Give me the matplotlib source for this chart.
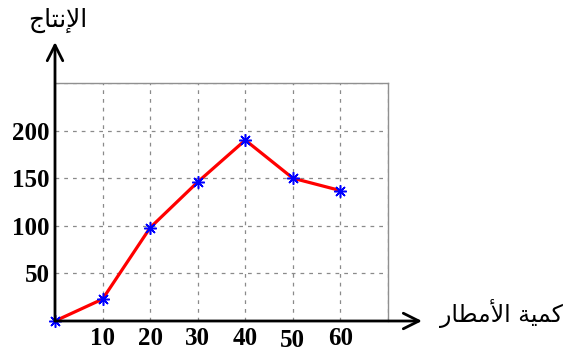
import matplotlib
matplotlib.use('Agg')
import matplotlib.pyplot as plt

# data
rain = [0, 10, 20, 30, 40, 50, 60]
production = [0, 23, 98, 146, 190, 150, 137]
x_ticks = [10, 20, 30, 40, 50, 60]
y_ticks = [50, 100, 150, 200]

# Arabic labels, already shaped (presentation forms, visual order)
y_title = '\uFE9D\uFE8E\uFE98\uFEE7\uFEF9\uFE8D'          # الإنتاج
x_title = '\uFEAD\uFE8E\uFEC4\uFEE3\uFEF7\uFE8D \uFE94\uFEF4\uFEE4\uFEDB'  # كمية الأمطار

W, H = 564, 351
fig = plt.figure(figsize=(W / 100, H / 100), dpi=100)
# plot box in pixels: x 55..388, y 83..321
ax = fig.add_axes([55 / W, (H - 321) / H, (388 - 55) / W, (321 - 83) / H])

ax.plot(rain, production, color='red', lw=2.3, marker=(8, 2, 0), ms=9,
        mec='blue', mew=1.1, zorder=3, clip_on=False)

ax.set_xlim(0, 70)
ax.set_ylim(0, 250)
ax.set_xticks(x_ticks + [70])
ax.set_yticks(y_ticks + [250])
ax.set_xticklabels([str(v) for v in x_ticks] + [''])
ax.set_yticklabels([str(v) for v in y_ticks] + [''])
ax.grid(True, ls=(0, (3, 4)), color='#8a8a8a', lw=0.9)
ax.tick_params(length=0, pad=4)
for lab in ax.get_xticklabels() + ax.get_yticklabels():
    lab.set_fontfamily('Liberation Serif')
    lab.set_fontweight('bold')
    lab.set_fontsize(18)
# the "50" on the x axis sits a bit lower in the original
ax.xaxis.get_major_ticks()[4].set_pad(6)

for side in ['top', 'right']:
    ax.spines[side].set_color('#909090')
    ax.spines[side].set_linewidth(1)
for side in ['left', 'bottom']:
    ax.spines[side].set_visible(False)

# black axes with arrow heads
arrow = dict(arrowstyle='->', lw=2, color='black', mutation_scale=28, shrinkA=0, shrinkB=0)
ax.annotate('', xy=(1.102, 0), xytext=(0, 0), xycoords='axes fraction',
            textcoords='axes fraction', arrowprops=arrow, annotation_clip=False)
ax.annotate('', xy=(0, 1.172), xytext=(0, 0), xycoords='axes fraction',
            textcoords='axes fraction', arrowprops=arrow, annotation_clip=False)

fig.text(58 / W, 1 - 20 / H, y_title, family='DejaVu Sans', fontsize=18,
         ha='center', va='center')
fig.text(501 / W, 1 - 314 / H, x_title, family='DejaVu Sans', fontsize=17,
         ha='center', va='center')

fig.savefig('out.png', dpi=100)
